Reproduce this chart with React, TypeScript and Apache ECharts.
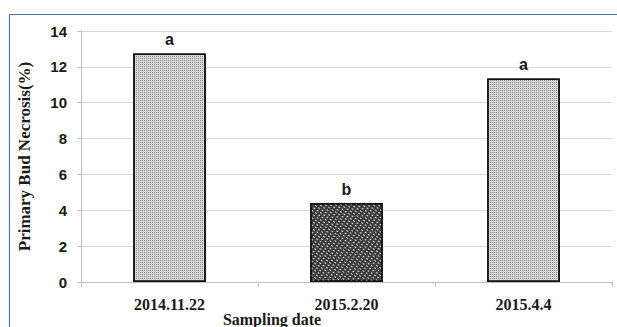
import React, { useEffect, useRef } from "react";
import * as echarts from "echarts";

const categories = ["2014.11.22", "2015.2.20", "2015.4.4"];
const values = [12.75, 4.4, 11.35];
const letters = ["a", "b", "a"];
const yTicks = [0, 2, 4, 6, 8, 10, 12, 14];

export default function App() {
  const ref = useRef<HTMLDivElement>(null);
  useEffect(() => {
    document.body.style.margin = "0";
    const chart = echarts.init(ref.current!, null, { renderer: "svg" });
    const lightDecal = {
      symbol: "rect",
      symbolSize: 1,
      color: "rgba(90,90,90,0.6)",
      dashArrayX: [1, 1],
      dashArrayY: [1, 1],
      rotation: 0,
    };
    const darkDecal = {
      symbol: "rect",
      symbolSize: 1,
      color: "rgba(255,255,255,0.85)",
      dashArrayX: [2, 2],
      dashArrayY: [1, 2],
      rotation: 0.6,
    };
    const itemColors = ["#d8d8d8", "#3a3a3a", "#d8d8d8"];
    chart.setOption({
      animation: false,
      grid: { left: 81, right: 5, top: 31, bottom: 45 },
      graphic: [
        {
          type: "line",
          shape: { x1: 9.5, y1: 14.5, x2: 617, y2: 14.5 },
          style: { stroke: "#4a78c0", lineWidth: 1.2 },
        },
        {
          type: "line",
          shape: { x1: 9.5, y1: 14.5, x2: 9.5, y2: 327 },
          style: { stroke: "#4a78c0", lineWidth: 1.2 },
        },
        {
          type: "text",
          x: 272,
          y: 319,
          style: {
            text: "Sampling date",
            font: "bold 16px 'Liberation Serif'",
            fill: "#1a1a1a",
            align: "center",
            verticalAlign: "middle",
          },
        },
      ],
      xAxis: {
        type: "category",
        data: categories,
        axisLine: { lineStyle: { color: "#bfbfbf" } },
        axisTick: { show: true, length: 5, lineStyle: { color: "#bfbfbf" } },
        axisLabel: {
          margin: 14,
          fontFamily: "Liberation Serif",
          fontWeight: "bold",
          fontSize: 16,
          color: "#1a1a1a",
        },
      },
      yAxis: {
        type: "value",
        min: yTicks[0],
        max: yTicks[yTicks.length - 1],
        interval: 2,
        name: "Primary Bud Necrosis(%)",
        nameLocation: "middle",
        nameGap: 48,
        nameTextStyle: {
          fontFamily: "Liberation Serif",
          fontWeight: "bold",
          fontSize: 17,
          color: "#1a1a1a",
        },
        axisLine: { show: true, lineStyle: { color: "#bfbfbf" } },
        axisTick: { show: true, length: 4, lineStyle: { color: "#bfbfbf" } },
        splitLine: { lineStyle: { color: "#d9d9d9", width: 1.2 } },
        axisLabel: {
          margin: 14,
          fontFamily: "Liberation Sans",
          fontWeight: "bold",
          fontSize: 15,
          color: "#1a1a1a",
        },
      },
      series: [
        {
          type: "bar",
          barWidth: "41%",
          data: values.map((v, i) => ({
            value: v,
            itemStyle: {
              color: itemColors[i],
              decal: i === 1 ? darkDecal : lightDecal,
              borderColor: "#111",
              borderWidth: 1.5,
            },
            label: {
              show: true,
              position: "top",
              distance: 6,
              formatter: letters[i],
              fontFamily: "Liberation Sans",
              fontWeight: "bold",
              fontSize: 16,
              color: "#1a1a1a",
            },
          })),
        },
      ],
    });
    return () => chart.dispose();
  }, []);
  return <div ref={ref} style={{ width: 617, height: 327 }} />;
}
